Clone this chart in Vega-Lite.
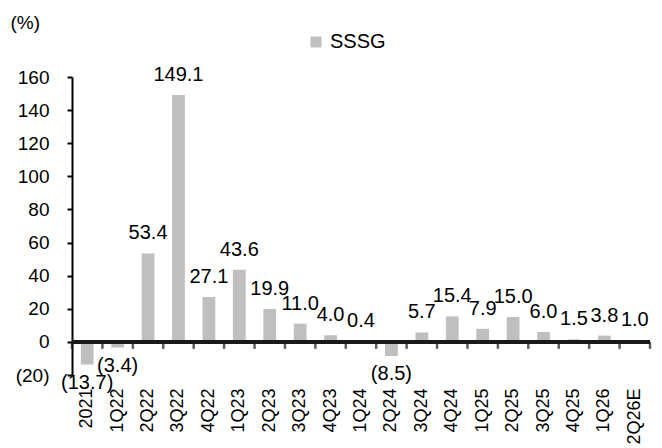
{
  "$schema": "https://vega.github.io/schema/vega-lite/v6.json",
  "width": 578,
  "height": 298,
  "autosize": {"type": "none"},
  "padding": {"left": 72, "top": 77, "right": 12, "bottom": 73},
  "background": "white",
  "config": {
    "view": {"stroke": null},
    "font": "Liberation Sans",
    "axisY": {"labelOverlap": false},
    "text": {"font": "Liberation Sans", "fontSize": 20, "color": "#000000"}
  },
  "data": {
    "values": [
      {"q": "2021", "v": -13.7, "label": "(13.7)"},
      {"q": "1Q22", "v": -3.4, "label": "(3.4)"},
      {"q": "2Q22", "v": 53.4, "label": "53.4"},
      {"q": "3Q22", "v": 149.1, "label": "149.1"},
      {"q": "4Q22", "v": 27.1, "label": "27.1"},
      {"q": "1Q23", "v": 43.6, "label": "43.6"},
      {"q": "2Q23", "v": 19.9, "label": "19.9"},
      {"q": "3Q23", "v": 11.0, "label": "11.0"},
      {"q": "4Q23", "v": 4.0, "label": "4.0"},
      {"q": "1Q24", "v": 0.4, "label": "0.4"},
      {"q": "2Q24", "v": -8.5, "label": "(8.5)"},
      {"q": "3Q24", "v": 5.7, "label": "5.7"},
      {"q": "4Q24", "v": 15.4, "label": "15.4"},
      {"q": "1Q25", "v": 7.9, "label": "7.9"},
      {"q": "2Q25", "v": 15.0, "label": "15.0"},
      {"q": "3Q25", "v": 6.0, "label": "6.0"},
      {"q": "4Q25", "v": 1.5, "label": "1.5"},
      {"q": "1Q26", "v": 3.8, "label": "3.8"},
      {"q": "2Q26E", "v": 1.0, "label": "1.0"}
    ]
  },
  "layer": [
    {
      "mark": {"type": "bar", "width": {"band": 0.42}},
      "encoding": {
        "x": {"field": "q", "type": "nominal", "sort": null, "scale": {"paddingInner": 0, "paddingOuter": 0},
          "axis": {"title": null, "domain": false, "ticks": false, "labelAngle": -90, "labelAlign": "right", "labelBaseline": "middle", "labelPadding": 13, "labelFontSize": 18, "labelColor": "#000000", "labelFont": "Liberation Sans"}},
        "y": {"field": "v", "type": "quantitative", "scale": {"domain": [-20, 160], "nice": false, "zero": false},
          "axis": {"values": [-20, 0, 20, 40, 60, 80, 100, 120, 140, 160], "labelExpr": "datum.value < 0 ? '(' + abs(datum.value) + ')' : datum.label", "labelOverlap": false, "grid": false, "domainColor": "#000000", "domainWidth": 2, "tickColor": "#000000", "tickWidth": 2, "tickSize": 5, "labelPadding": 18, "labelFontSize": 19, "labelColor": "#000000", "labelFont": "Liberation Sans", "title": "(%)", "titleAngle": 0, "titleAlign": "left", "titleBaseline": "middle", "titleX": -62, "titleY": -55, "titleFontSize": 19, "titleFontWeight": "normal", "titleFont": "Liberation Sans", "titleColor": "#000000"}},
        "color": {
          "datum": "SSSG",
          "type": "nominal",
          "scale": {"range": ["#BFBFBF"]},
          "legend": {"title": null, "orient": "none", "legendX": 234, "legendY": -45, "symbolType": "square", "symbolSize": 121, "symbolStrokeWidth": 0, "labelFontSize": 20, "labelFont": "Liberation Sans", "labelColor": "#000000", "labelOffset": 4}
        }
      }
    },
    {
      "mark": {"type": "rule", "stroke": "#1a1a1a", "strokeWidth": 2.5},
      "encoding": {
        "y": {"datum": 0, "type": "quantitative", "scale": {"domain": [-20, 160], "nice": false, "zero": false},
          "axis": {"values": [-20, 0, 20, 40, 60, 80, 100, 120, 140, 160], "labelExpr": "datum.value < 0 ? '(' + abs(datum.value) + ')' : datum.label", "labelOverlap": false, "grid": false, "domainColor": "#000000", "domainWidth": 2, "tickColor": "#000000", "tickWidth": 2, "tickSize": 5, "labelPadding": 18, "labelFontSize": 19, "labelColor": "#000000", "labelFont": "Liberation Sans", "title": "(%)", "titleAngle": 0, "titleAlign": "left", "titleBaseline": "middle", "titleX": -62, "titleY": -55, "titleFontSize": 19, "titleFontWeight": "normal", "titleFont": "Liberation Sans", "titleColor": "#000000"}}
      }
    },
    {
      "mark": {"type": "tick", "color": "#1a1a1a", "orient": "vertical", "size": 7, "thickness": 2.5, "yOffset": 3.5},
      "encoding": {
        "x": {"field": "q", "type": "nominal", "sort": null, "bandPosition": 0, "scale": {"paddingInner": 0, "paddingOuter": 0},
          "axis": {"title": null, "domain": false, "ticks": false, "labelAngle": -90, "labelAlign": "right", "labelBaseline": "middle", "labelPadding": 13, "labelFontSize": 18, "labelColor": "#000000", "labelFont": "Liberation Sans"}},
        "y": {"datum": 0, "type": "quantitative", "scale": {"domain": [-20, 160], "nice": false, "zero": false},
          "axis": {"values": [-20, 0, 20, 40, 60, 80, 100, 120, 140, 160], "labelExpr": "datum.value < 0 ? '(' + abs(datum.value) + ')' : datum.label", "labelOverlap": false, "grid": false, "domainColor": "#000000", "domainWidth": 2, "tickColor": "#000000", "tickWidth": 2, "tickSize": 5, "labelPadding": 18, "labelFontSize": 19, "labelColor": "#000000", "labelFont": "Liberation Sans", "title": "(%)", "titleAngle": 0, "titleAlign": "left", "titleBaseline": "middle", "titleX": -62, "titleY": -55, "titleFontSize": 19, "titleFontWeight": "normal", "titleFont": "Liberation Sans", "titleColor": "#000000"}}
      }
    },
    {
      "transform": [{"filter": "datum.q == '2Q26E'"}],
      "mark": {"type": "tick", "color": "#1a1a1a", "orient": "vertical", "size": 7, "thickness": 2.5, "yOffset": 3.5},
      "encoding": {
        "x": {"field": "q", "type": "nominal", "sort": null, "bandPosition": 1, "scale": {"paddingInner": 0, "paddingOuter": 0},
          "axis": {"title": null, "domain": false, "ticks": false, "labelAngle": -90, "labelAlign": "right", "labelBaseline": "middle", "labelPadding": 13, "labelFontSize": 18, "labelColor": "#000000", "labelFont": "Liberation Sans"}},
        "y": {"datum": 0, "type": "quantitative", "scale": {"domain": [-20, 160], "nice": false, "zero": false},
          "axis": {"values": [-20, 0, 20, 40, 60, 80, 100, 120, 140, 160], "labelExpr": "datum.value < 0 ? '(' + abs(datum.value) + ')' : datum.label", "labelOverlap": false, "grid": false, "domainColor": "#000000", "domainWidth": 2, "tickColor": "#000000", "tickWidth": 2, "tickSize": 5, "labelPadding": 18, "labelFontSize": 19, "labelColor": "#000000", "labelFont": "Liberation Sans", "title": "(%)", "titleAngle": 0, "titleAlign": "left", "titleBaseline": "middle", "titleX": -62, "titleY": -55, "titleFontSize": 19, "titleFontWeight": "normal", "titleFont": "Liberation Sans", "titleColor": "#000000"}}
      }
    },
    {
      "transform": [{"filter": "datum.v >= 0"}],
      "mark": {"type": "text", "baseline": "middle", "align": "center", "dy": -20},
      "encoding": {
        "x": {"field": "q", "type": "nominal", "sort": null, "scale": {"paddingInner": 0, "paddingOuter": 0},
          "axis": {"title": null, "domain": false, "ticks": false, "labelAngle": -90, "labelAlign": "right", "labelBaseline": "middle", "labelPadding": 13, "labelFontSize": 18, "labelColor": "#000000", "labelFont": "Liberation Sans"}},
        "y": {"field": "v", "type": "quantitative", "scale": {"domain": [-20, 160], "nice": false, "zero": false},
          "axis": {"values": [-20, 0, 20, 40, 60, 80, 100, 120, 140, 160], "labelExpr": "datum.value < 0 ? '(' + abs(datum.value) + ')' : datum.label", "labelOverlap": false, "grid": false, "domainColor": "#000000", "domainWidth": 2, "tickColor": "#000000", "tickWidth": 2, "tickSize": 5, "labelPadding": 18, "labelFontSize": 19, "labelColor": "#000000", "labelFont": "Liberation Sans", "title": "(%)", "titleAngle": 0, "titleAlign": "left", "titleBaseline": "middle", "titleX": -62, "titleY": -55, "titleFontSize": 19, "titleFontWeight": "normal", "titleFont": "Liberation Sans", "titleColor": "#000000"}},
        "text": {"field": "label"}
      }
    },
    {
      "transform": [{"filter": "datum.v < 0"}],
      "mark": {"type": "text", "baseline": "middle", "align": "center", "dy": 18},
      "encoding": {
        "x": {"field": "q", "type": "nominal", "sort": null, "scale": {"paddingInner": 0, "paddingOuter": 0},
          "axis": {"title": null, "domain": false, "ticks": false, "labelAngle": -90, "labelAlign": "right", "labelBaseline": "middle", "labelPadding": 13, "labelFontSize": 18, "labelColor": "#000000", "labelFont": "Liberation Sans"}},
        "y": {"field": "v", "type": "quantitative", "scale": {"domain": [-20, 160], "nice": false, "zero": false},
          "axis": {"values": [-20, 0, 20, 40, 60, 80, 100, 120, 140, 160], "labelExpr": "datum.value < 0 ? '(' + abs(datum.value) + ')' : datum.label", "labelOverlap": false, "grid": false, "domainColor": "#000000", "domainWidth": 2, "tickColor": "#000000", "tickWidth": 2, "tickSize": 5, "labelPadding": 18, "labelFontSize": 19, "labelColor": "#000000", "labelFont": "Liberation Sans", "title": "(%)", "titleAngle": 0, "titleAlign": "left", "titleBaseline": "middle", "titleX": -62, "titleY": -55, "titleFontSize": 19, "titleFontWeight": "normal", "titleFont": "Liberation Sans", "titleColor": "#000000"}},
        "text": {"field": "label"}
      }
    }
  ]
}
